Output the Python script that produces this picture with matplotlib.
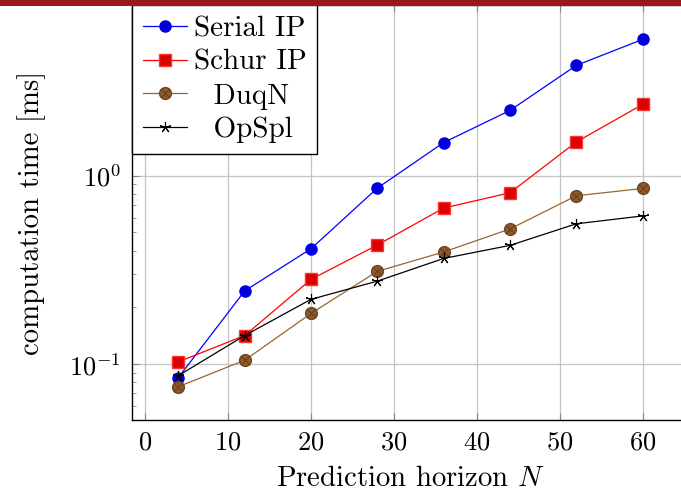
import numpy as np
import matplotlib.pyplot as plt
from matplotlib.legend_handler import HandlerTuple
from matplotlib.patches import Rectangle

plt.rcParams['font.family'] = 'serif'
plt.rcParams['font.serif'] = ['cmr10']
plt.rcParams['mathtext.fontset'] = 'cm'
plt.rcParams['axes.formatter.use_mathtext'] = True
plt.rcParams['font.size'] = 19

# prediction horizons
N = [4, 12, 20, 28, 36, 44, 52, 60]
# computation times [ms]
serial_ip = [0.085, 0.245, 0.41, 0.86, 1.50, 2.22, 3.85, 5.29]
schur_ip = [0.103, 0.142, 0.282, 0.429, 0.674, 0.812, 1.51, 2.39]
duqn = [0.076, 0.105, 0.186, 0.311, 0.394, 0.522, 0.783, 0.856]
opspl = [0.087, 0.142, 0.221, 0.276, 0.364, 0.427, 0.556, 0.612]

W, H = 681, 495
fig = plt.figure(figsize=(W / 100, H / 100), dpi=100)
# axes box in pixels: left 132, right 689, top 5, bottom 420
ax = fig.add_axes([132 / W, 75 / H, 557 / W, 415 / H])

# header strip
fig.patches.append(Rectangle((0, 1 - 6 / H), 1, 6 / H, transform=fig.transFigure,
                             facecolor='#9A1620', edgecolor='none', zorder=0))

l1, = ax.plot(N, serial_ip, color='#0000ff', lw=0.9, marker='o', ms=8,
              mfc='#0000dd', mec='#0000dd')
l2, = ax.plot(N, schur_ip, color='#ff0000', lw=0.9, marker='s', ms=8,
              mfc='#dd0000', mec='#ff3333')
l3, = ax.plot(N, duqn, color='#996633', lw=0.9, marker='o', ms=8.5,
              mfc='#8c5a2b', mec='#6e4520')
l3x, = ax.plot(N, duqn, ls='none', marker='x', ms=5.5, mew=0.6, color='#5a3818')
l4, = ax.plot(N, opspl, color='black', lw=0.9, marker=(5, 2, 0), ms=8, mew=0.8)

ax.set_yscale('log')
ax.set_xlim(-1.6, 65.6)
ax.set_ylim(10 ** -1.296, 10 ** 0.906)
ax.set_xticks([0, 10, 20, 30, 40, 50, 60])
ax.set_yticks([0.1, 1])

ax.grid(True, which='major', color='#c4c4c4', lw=0.9)
ax.set_axisbelow(True)
ax.tick_params(which='both', direction='in', top=True, right=True)
ax.tick_params(which='major', length=5, width=0.8, colors='#888888', labelcolor='black')
ax.tick_params(which='minor', length=3, width=0.6, colors='#888888')
ax.tick_params(axis='x', which='major', pad=8)
ax.tick_params(axis='y', which='major', pad=8)
for s in ax.spines.values():
    s.set_linewidth(1.0)

ax.set_xlabel('Prediction horizon $N$', fontsize=20.7, labelpad=8)
ax.set_ylabel('computation time [ms]', fontsize=20.7, labelpad=17)

leg = ax.legend([l1, l2, (l3, l3x), l4],
                ['Serial IP', 'Schur IP', '  DuqN', '  OpSpl'],
                handler_map={tuple: HandlerTuple(ndivide=1)},
                loc='upper left', bbox_to_anchor=(0, 1), borderaxespad=0,
                fancybox=False, framealpha=1, edgecolor='black', fontsize=21,
                handlelength=1.5, labelspacing=0.25, borderpad=0.37,
                handletextpad=0.25)
leg.get_frame().set_linewidth(1.0)

fig.savefig('out.png', dpi=100)
